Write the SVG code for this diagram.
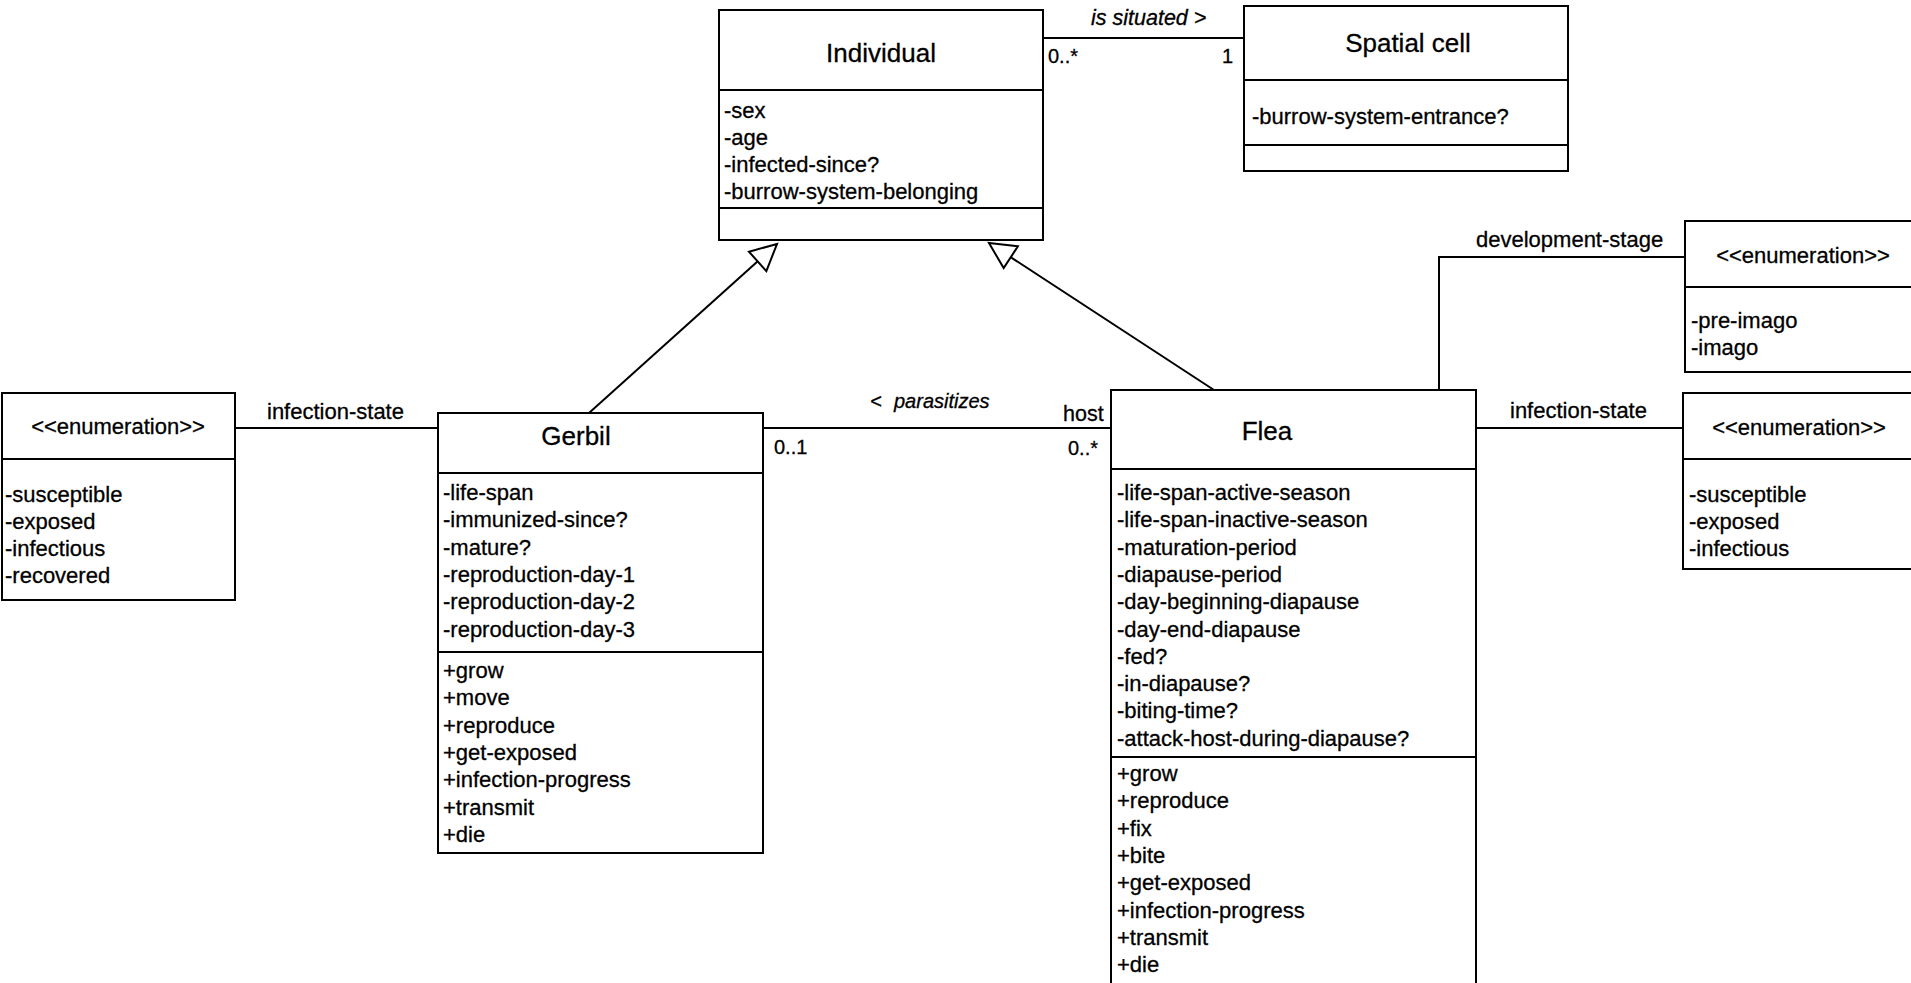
<svg xmlns="http://www.w3.org/2000/svg" width="1911" height="983" viewBox="0 0 1911 983">
<defs>
<style>
.box{fill:#fff;stroke:#000;stroke-width:2}
.dv{stroke:#000;stroke-width:2;fill:none}
.cn{stroke:#000;stroke-width:2;fill:none}
text{font-family:"Liberation Sans",Arial,sans-serif;fill:#000;stroke:#000;stroke-width:0.3px}
.a{font-size:22px}
.ti{font-size:26px;text-anchor:middle}
.en{font-size:22px;text-anchor:middle}
.lb{font-size:22px}
.m{font-size:20px}
.it{font-style:italic}
</style>
<marker id="gen" markerUnits="userSpaceOnUse" markerWidth="32" markerHeight="32" viewBox="0 0 32 32" refX="29" refY="16" orient="auto">
<path d="M3,3 L29,16 L3,29 Z" fill="#fff" stroke="#000" stroke-width="2"/>
</marker>
</defs>
<rect width="1911" height="983" fill="#fff"/>
<g id="connectors">
<line class="cn" x1="1043" y1="38" x2="1244" y2="38"/>
<line class="cn" x1="234" y1="428" x2="438" y2="428"/>
<line class="cn" x1="763" y1="428" x2="1111" y2="428"/>
<line class="cn" x1="1476" y1="428" x2="1683" y2="428"/>
<polyline class="cn" points="1439,390 1439,257 1685,257"/>
<line class="cn" x1="589" y1="413" x2="777" y2="244" marker-end="url(#gen)"/>
<line class="cn" x1="1214" y1="390" x2="989" y2="243" marker-end="url(#gen)"/>
<text class="lb it" x="1091" y="25" style="font-size:21.5px">is situated &gt;</text>
<text class="m" x="1048" y="63">0..*</text>
<text class="m" x="1222" y="63">1</text>
<text class="lb" x="267" y="419">infection-state</text>
<text class="m it" y="408"><tspan x="870">&lt;</tspan><tspan x="894">parasitizes</tspan></text>
<text class="lb" x="1063" y="421" style="font-size:21.5px">host</text>
<text class="m" x="774" y="454">0..1</text>
<text class="m" x="1068" y="455">0..*</text>
<text class="lb" x="1476" y="247">development-stage</text>
<text class="lb" x="1510" y="418">infection-state</text>
</g>
<g id="individual">
<rect class="box" x="719" y="10" width="324" height="230"/>
<line class="dv" x1="719" y1="90" x2="1043" y2="90"/>
<line class="dv" x1="719" y1="208" x2="1043" y2="208"/>
<text class="ti" x="881" y="62">Individual</text>
<text class="a" x="724" y="118">-sex</text>
<text class="a" x="724" y="145">-age</text>
<text class="a" x="724" y="172">-infected-since?</text>
<text class="a" x="724" y="199">-burrow-system-belonging</text>
</g>
<g id="spatial-cell">
<rect class="box" x="1244" y="6" width="324" height="165"/>
<line class="dv" x1="1244" y1="80" x2="1568" y2="80"/>
<line class="dv" x1="1244" y1="145" x2="1568" y2="145"/>
<text class="ti" x="1408" y="52">Spatial cell</text>
<text class="a" x="1252" y="124">-burrow-system-entrance?</text>
</g>
<g id="gerbil-infection-enum">
<rect class="box" x="2" y="393" width="233" height="207"/>
<line class="dv" x1="2" y1="459" x2="235" y2="459"/>
<text class="en" x="118" y="434">&lt;&lt;enumeration&gt;&gt;</text>
<text class="a" x="5" y="502">-susceptible</text>
<text class="a" x="5" y="529">-exposed</text>
<text class="a" x="5" y="556">-infectious</text>
<text class="a" x="5" y="583">-recovered</text>
</g>
<g id="gerbil">
<rect class="box" x="438" y="413" width="325" height="440"/>
<line class="dv" x1="438" y1="473" x2="763" y2="473"/>
<line class="dv" x1="438" y1="652" x2="763" y2="652"/>
<text class="ti" x="576" y="445">Gerbil</text>
<text class="a" x="443" y="500">-life-span</text>
<text class="a" x="443" y="527.3">-immunized-since?</text>
<text class="a" x="443" y="554.6">-mature?</text>
<text class="a" x="443" y="581.9">-reproduction-day-1</text>
<text class="a" x="443" y="609.2">-reproduction-day-2</text>
<text class="a" x="443" y="636.5">-reproduction-day-3</text>
<text class="a" x="443" y="678">+grow</text>
<text class="a" x="443" y="705.3">+move</text>
<text class="a" x="443" y="732.6">+reproduce</text>
<text class="a" x="443" y="759.9">+get-exposed</text>
<text class="a" x="443" y="787.2">+infection-progress</text>
<text class="a" x="443" y="814.5">+transmit</text>
<text class="a" x="443" y="841.8">+die</text>
</g>
<g id="flea">
<rect class="box" x="1111" y="390" width="365" height="610"/>
<line class="dv" x1="1111" y1="469" x2="1476" y2="469"/>
<line class="dv" x1="1111" y1="757" x2="1476" y2="757"/>
<text class="ti" x="1267" y="440">Flea</text>
<text class="a" x="1117" y="500">-life-span-active-season</text>
<text class="a" x="1117" y="527.3">-life-span-inactive-season</text>
<text class="a" x="1117" y="554.6">-maturation-period</text>
<text class="a" x="1117" y="581.9">-diapause-period</text>
<text class="a" x="1117" y="609.2">-day-beginning-diapause</text>
<text class="a" x="1117" y="636.5">-day-end-diapause</text>
<text class="a" x="1117" y="663.8">-fed?</text>
<text class="a" x="1117" y="691.1">-in-diapause?</text>
<text class="a" x="1117" y="718.4">-biting-time?</text>
<text class="a" x="1117" y="745.7">-attack-host-during-diapause?</text>
<text class="a" x="1117" y="781">+grow</text>
<text class="a" x="1117" y="808.3">+reproduce</text>
<text class="a" x="1117" y="835.6">+fix</text>
<text class="a" x="1117" y="862.9">+bite</text>
<text class="a" x="1117" y="890.2">+get-exposed</text>
<text class="a" x="1117" y="917.5">+infection-progress</text>
<text class="a" x="1117" y="944.8">+transmit</text>
<text class="a" x="1117" y="972.1">+die</text>
</g>
<g id="development-stage-enum">
<rect class="box" x="1685" y="221" width="240" height="151"/>
<line class="dv" x1="1685" y1="287" x2="1925" y2="287"/>
<text class="en" x="1803" y="263">&lt;&lt;enumeration&gt;&gt;</text>
<text class="a" x="1691" y="328">-pre-imago</text>
<text class="a" x="1691" y="355">-imago</text>
</g>
<g id="flea-infection-enum">
<rect class="box" x="1683" y="393" width="240" height="176"/>
<line class="dv" x1="1683" y1="459" x2="1923" y2="459"/>
<text class="en" x="1799" y="435">&lt;&lt;enumeration&gt;&gt;</text>
<text class="a" x="1689" y="502">-susceptible</text>
<text class="a" x="1689" y="529">-exposed</text>
<text class="a" x="1689" y="556">-infectious</text>
</g>
</svg>
